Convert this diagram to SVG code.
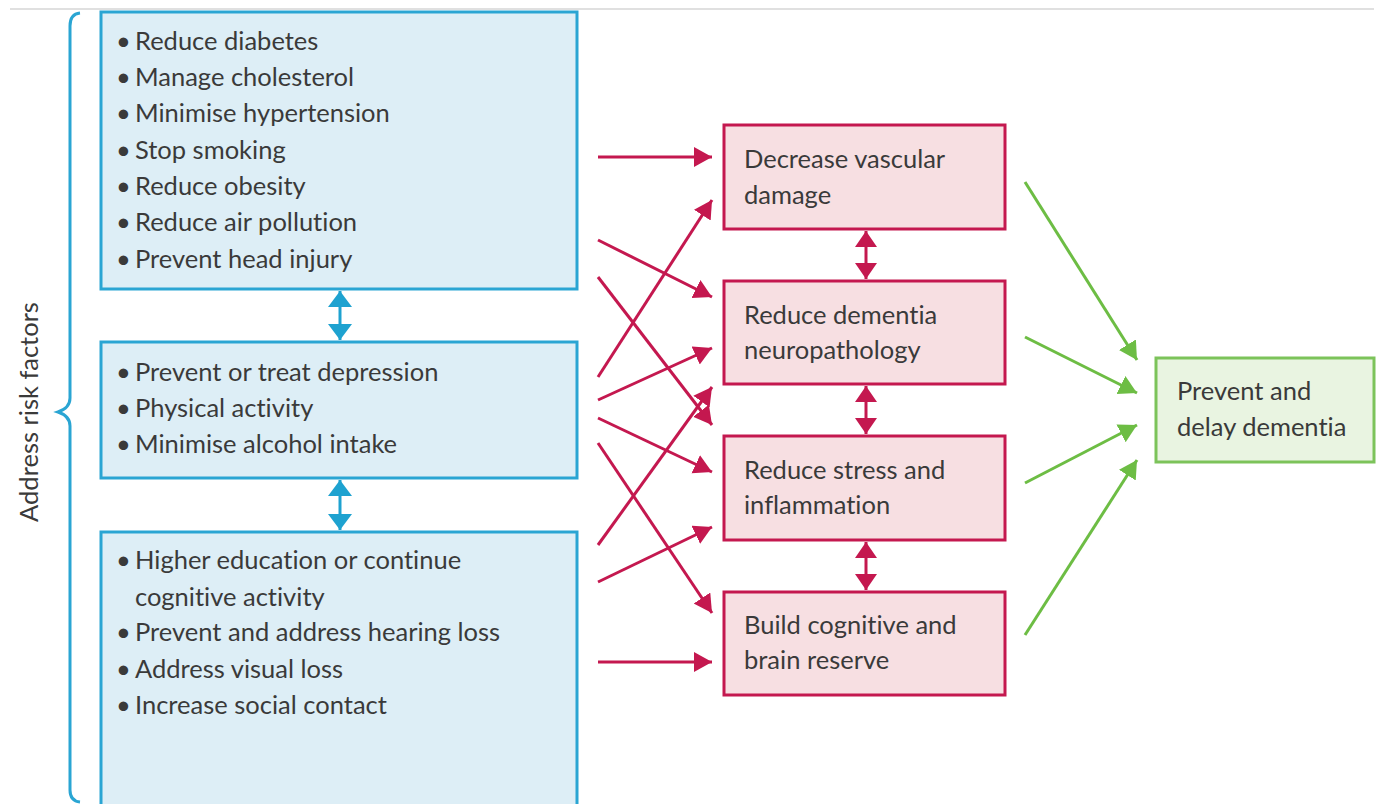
<svg xmlns="http://www.w3.org/2000/svg" width="1378" height="804" viewBox="0 0 1378 804">
<style>
  .t { font-family: Lato, "Liberation Sans", sans-serif; font-size: 25.5px; fill: #3a3a3a; font-variant-ligatures: none; }
  .blue { fill: #ddeef6; stroke: #2aa5d3; stroke-width: 3; }
  .red { fill: #f7dfe2; stroke: #c4184f; stroke-width: 3; }
  .green { fill: #e9f4e1; stroke: #7cc35a; stroke-width: 3; }
  .ra { stroke: #c4184f; stroke-width: 3; fill: none; marker-end: url(#rh); }
  .ga { stroke: #6dbd44; stroke-width: 3; fill: none; marker-end: url(#gh); }
  .rd { stroke: #c4184f; stroke-width: 3; fill: none; marker-start: url(#rhs); marker-end: url(#rh2); }
  .bd { stroke: #1ea2d0; stroke-width: 3; fill: none; marker-start: url(#bhs); marker-end: url(#bh); }
</style>
<defs>
  <marker id="rh" markerUnits="userSpaceOnUse" markerWidth="24" markerHeight="24" refX="18" refY="10" orient="auto">
    <path d="M0,0 L18,10 L0,20 Z" fill="#c4184f"/>
  </marker>
  <marker id="rh2" markerUnits="userSpaceOnUse" markerWidth="24" markerHeight="24" refX="16" refY="11" orient="auto">
    <path d="M0,0 L16,11 L0,22 Z" fill="#c4184f"/>
  </marker>
  <marker id="rhs" markerUnits="userSpaceOnUse" markerWidth="24" markerHeight="24" refX="0" refY="11" orient="auto">
    <path d="M16,0 L0,11 L16,22 Z" fill="#c4184f"/>
  </marker>
  <marker id="gh" markerUnits="userSpaceOnUse" markerWidth="24" markerHeight="24" refX="18" refY="10" orient="auto">
    <path d="M0,0 L18,10 L0,20 Z" fill="#6dbd44"/>
  </marker>
  <marker id="bh" markerUnits="userSpaceOnUse" markerWidth="26" markerHeight="26" refX="16" refY="12" orient="auto">
    <path d="M0,0 L16,12 L0,24 Z" fill="#1ea2d0"/>
  </marker>
  <marker id="bhs" markerUnits="userSpaceOnUse" markerWidth="26" markerHeight="26" refX="0" refY="12" orient="auto">
    <path d="M16,0 L0,12 L16,24 Z" fill="#1ea2d0"/>
  </marker>
</defs>

<line x1="10" y1="9" x2="1374" y2="9" stroke="#e0e0e0" stroke-width="2"/>

<g id="brace">
  <path d="M80,13 Q70,14 70,26 L70,398 Q70,408 58,412 Q70,416 70,426 L70,790 Q70,801 80,802" fill="none" stroke="#2aa5d3" stroke-width="3"/>
  <text class="t" transform="translate(38,412) rotate(-90)" text-anchor="middle">Address risk factors</text>
</g>

<g id="box1">
  <rect class="blue" x="101" y="12" width="476" height="277"/>
  <text class="t" x="116" y="50">•<tspan x="135">Reduce diabetes</tspan></text>
  <text class="t" x="116" y="86">•<tspan x="135">Manage cholesterol</tspan></text>
  <text class="t" x="116" y="122">•<tspan x="135">Minimise hypertension</tspan></text>
  <text class="t" x="116" y="159">•<tspan x="135">Stop smoking</tspan></text>
  <text class="t" x="116" y="195">•<tspan x="135">Reduce obesity</tspan></text>
  <text class="t" x="116" y="231">•<tspan x="135">Reduce air pollution</tspan></text>
  <text class="t" x="116" y="268">•<tspan x="135">Prevent head injury</tspan></text>
</g>
<g id="box2">
  <rect class="blue" x="101" y="342" width="476" height="136"/>
  <text class="t" x="116" y="381">•<tspan x="135">Prevent or treat depression</tspan></text>
  <text class="t" x="116" y="417">•<tspan x="135">Physical activity</tspan></text>
  <text class="t" x="116" y="453">•<tspan x="135">Minimise alcohol intake</tspan></text>
</g>
<g id="box3">
  <rect class="blue" x="101" y="532" width="476" height="280"/>
  <text class="t" x="116" y="569">•<tspan x="135">Higher education or continue</tspan></text>
  <text class="t" x="135" y="606">cognitive activity</text>
  <text class="t" x="116" y="641">•<tspan x="135">Prevent and address hearing loss</tspan></text>
  <text class="t" x="116" y="678">•<tspan x="135">Address visual loss</tspan></text>
  <text class="t" x="116" y="714">•<tspan x="135">Increase social contact</tspan></text>
</g>

<g id="redA">
  <rect class="red" x="724" y="125" width="281" height="104"/>
  <text class="t" x="744" y="168">Decrease vascular</text>
  <text class="t" x="744" y="204">damage</text>
</g>
<g id="redB">
  <rect class="red" x="724" y="281" width="281" height="103"/>
  <text class="t" x="744" y="324">Reduce dementia</text>
  <text class="t" x="744" y="359">neuropathology</text>
</g>
<g id="redC">
  <rect class="red" x="724" y="436" width="281" height="104"/>
  <text class="t" x="744" y="479">Reduce stress and</text>
  <text class="t" x="744" y="514">inflammation</text>
</g>
<g id="redD">
  <rect class="red" x="724" y="592" width="281" height="103"/>
  <text class="t" x="744" y="634">Build cognitive and</text>
  <text class="t" x="744" y="669">brain reserve</text>
</g>
<g id="greenBox">
  <rect class="green" x="1156" y="358" width="218" height="104"/>
  <text class="t" x="1177" y="400">Prevent and</text>
  <text class="t" x="1177" y="436">delay dementia</text>
</g>

<g id="connectors">
  <line class="bd" x1="340" y1="291" x2="340" y2="340"/>
  <line class="bd" x1="340" y1="480" x2="340" y2="530"/>
  <line class="rd" x1="866" y1="231" x2="866" y2="279"/>
  <line class="rd" x1="866" y1="386" x2="866" y2="434"/>
  <line class="rd" x1="866" y1="542" x2="866" y2="590"/>

  <line class="ra" x1="598" y1="157" x2="712" y2="157"/>
  <line class="ra" x1="598" y1="240" x2="712" y2="297"/>
  <line class="ra" x1="598" y1="277" x2="712" y2="425"/>
  <line class="ra" x1="598" y1="377" x2="712" y2="200"/>
  <line class="ra" x1="598" y1="400" x2="712" y2="348"/>
  <line class="ra" x1="598" y1="418" x2="712" y2="472"/>
  <line class="ra" x1="598" y1="443" x2="712" y2="613"/>
  <line class="ra" x1="598" y1="545" x2="712" y2="387"/>
  <line class="ra" x1="598" y1="582" x2="712" y2="527"/>
  <line class="ra" x1="598" y1="662" x2="712" y2="662"/>

  <line class="ga" x1="1025" y1="182" x2="1137" y2="360"/>
  <line class="ga" x1="1025" y1="337" x2="1137" y2="393"/>
  <line class="ga" x1="1025" y1="483" x2="1137" y2="425"/>
  <line class="ga" x1="1025" y1="635" x2="1137" y2="460"/>
</g>
</svg>
